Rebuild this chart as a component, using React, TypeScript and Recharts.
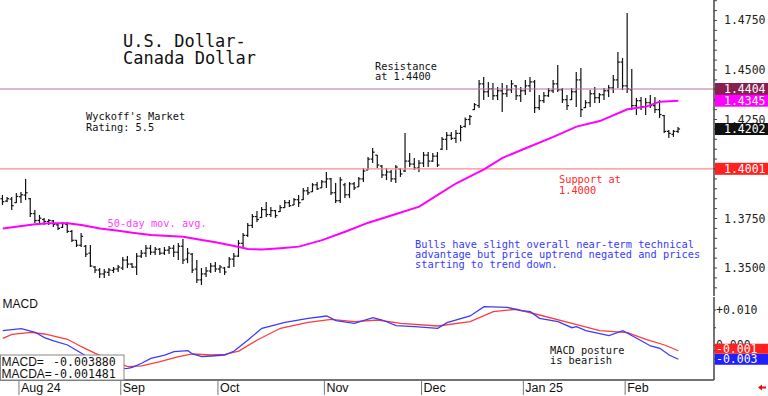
import React from 'react';
import { ComposedChart, Bar, Line, XAxis, YAxis, ReferenceLine } from 'recharts';

// daily bars, late Jul 2024 -> mid Feb 2025 (index = trading day)
const opens = [
  1.3850, 1.3838, 1.3848, 1.3830, 1.3860, 1.3868, 1.3850, 1.3775, 1.3740, 1.3745,
  1.3735, 1.3738, 1.3718, 1.3705, 1.3720, 1.3685, 1.3640, 1.3615, 1.3610, 1.3575,
  1.3505, 1.3490, 1.3470, 1.3478, 1.3488, 1.3495, 1.3500, 1.3540, 1.3520, 1.3505,
  1.3560, 1.3575, 1.3600, 1.3580, 1.3595, 1.3575, 1.3590, 1.3600, 1.3580, 1.3610,
  1.3545, 1.3570, 1.3495, 1.3440, 1.3470, 1.3485, 1.3510, 1.3495, 1.3500, 1.3505,
  1.3545, 1.3560, 1.3625, 1.3665, 1.3715, 1.3760, 1.3755, 1.3795, 1.3770, 1.3790,
  1.3785, 1.3805, 1.3830, 1.3818, 1.3845, 1.3845, 1.3890, 1.3885, 1.3920, 1.3905,
  1.3935, 1.3950, 1.3880, 1.3840, 1.3920, 1.3870, 1.3925, 1.3910, 1.3950, 1.3995,
  1.4050, 1.4070, 1.4015, 1.3970, 1.3985, 1.3950, 1.4000, 1.3990, 1.4040, 1.4025,
  1.4005, 1.4030, 1.4070, 1.4040, 1.4065, 1.4100, 1.4150, 1.4170, 1.4155, 1.4180,
  1.4215, 1.4250, 1.4300, 1.4320, 1.4430, 1.4390, 1.4405, 1.4370, 1.4395, 1.4380,
  1.4400, 1.4420, 1.4370, 1.4395, 1.4420, 1.4440, 1.4310, 1.4345, 1.4370, 1.4395,
  1.4430, 1.4400, 1.4350, 1.4350, 1.4390, 1.4450, 1.4310, 1.4335, 1.4380, 1.4360,
  1.4375, 1.4395, 1.4410, 1.4450, 1.4540, 1.4420, 1.4400, 1.4320, 1.4345, 1.4315,
  1.4335, 1.4320, 1.4300, 1.4270, 1.4190, 1.4175, 1.4190,
];
const highs = [
  1.3869, 1.3859, 1.3859, 1.3879, 1.3884, 1.3950, 1.3854, 1.3793, 1.3768, 1.3753,
  1.3748, 1.3742, 1.3727, 1.3732, 1.3732, 1.3692, 1.3641, 1.3677, 1.3616, 1.3616,
  1.3510, 1.3500, 1.3495, 1.3500, 1.3505, 1.3515, 1.3556, 1.3561, 1.3525, 1.3576,
  1.3591, 1.3616, 1.3616, 1.3606, 1.3601, 1.3606, 1.3611, 1.3616, 1.3626, 1.3647,
  1.3601, 1.3576, 1.3540, 1.3500, 1.3505, 1.3525, 1.3530, 1.3515, 1.3505, 1.3556,
  1.3576, 1.3641, 1.3677, 1.3727, 1.3773, 1.3788, 1.3808, 1.3833, 1.3808, 1.3793,
  1.3818, 1.3843, 1.3843, 1.3854, 1.3869, 1.3904, 1.3909, 1.3929, 1.3934, 1.3944,
  1.3985, 1.3955, 1.3929, 1.3960, 1.3929, 1.3934, 1.3934, 1.3960, 1.4005, 1.4061,
  1.4106, 1.4071, 1.4020, 1.4005, 1.3995, 1.4020, 1.4005, 1.4182, 1.4081, 1.4056,
  1.4045, 1.4086, 1.4086, 1.4081, 1.4086, 1.4162, 1.4187, 1.4187, 1.4197, 1.4222,
  1.4260, 1.4273, 1.4333, 1.4449, 1.4465, 1.4439, 1.4434, 1.4414, 1.4434, 1.4424,
  1.4449, 1.4424, 1.4414, 1.4449, 1.4465, 1.4449, 1.4374, 1.4389, 1.4409, 1.4449,
  1.4525, 1.4409, 1.4374, 1.4409, 1.4490, 1.4510, 1.4348, 1.4399, 1.4414, 1.4384,
  1.4409, 1.4424, 1.4475, 1.4591, 1.4561, 1.4788, 1.4505, 1.4359, 1.4364, 1.4359,
  1.4374, 1.4364, 1.4348, 1.4273, 1.4197, 1.4197, 1.4212,
];
const lows = [
  1.3818, 1.3833, 1.3793, 1.3828, 1.3828, 1.3843, 1.3758, 1.3727, 1.3727, 1.3717,
  1.3717, 1.3707, 1.3692, 1.3702, 1.3677, 1.3631, 1.3606, 1.3606, 1.3556, 1.3505,
  1.3475, 1.3450, 1.3450, 1.3460, 1.3475, 1.3480, 1.3490, 1.3500, 1.3500, 1.3465,
  1.3551, 1.3556, 1.3566, 1.3566, 1.3566, 1.3566, 1.3571, 1.3556, 1.3540, 1.3520,
  1.3525, 1.3475, 1.3424, 1.3414, 1.3455, 1.3475, 1.3480, 1.3475, 1.3465, 1.3500,
  1.3505, 1.3556, 1.3606, 1.3657, 1.3702, 1.3732, 1.3753, 1.3758, 1.3758, 1.3753,
  1.3783, 1.3803, 1.3808, 1.3818, 1.3808, 1.3843, 1.3869, 1.3884, 1.3894, 1.3904,
  1.3904, 1.3869, 1.3828, 1.3828, 1.3854, 1.3854, 1.3894, 1.3909, 1.3934, 1.3995,
  1.4030, 1.4005, 1.3955, 1.3944, 1.3934, 1.3929, 1.3960, 1.3985, 1.4010, 1.3995,
  1.3985, 1.4010, 1.4010, 1.4035, 1.4010, 1.4096, 1.4096, 1.4147, 1.4131, 1.4140,
  1.4210, 1.4222, 1.4298, 1.4308, 1.4348, 1.4364, 1.4348, 1.4348, 1.4288, 1.4364,
  1.4384, 1.4348, 1.4338, 1.4374, 1.4389, 1.4283, 1.4298, 1.4333, 1.4364, 1.4384,
  1.4389, 1.4333, 1.4298, 1.4348, 1.4313, 1.4263, 1.4308, 1.4313, 1.4333, 1.4333,
  1.4348, 1.4364, 1.4384, 1.4409, 1.4399, 1.4384, 1.4298, 1.4273, 1.4298, 1.4273,
  1.4308, 1.4283, 1.4258, 1.4182, 1.4157, 1.4162, 1.4182,
];
const closes = [
  1.3835, 1.3850, 1.3815, 1.3862, 1.3870, 1.3880, 1.3775, 1.3740, 1.3752, 1.3735,
  1.3740, 1.3720, 1.3700, 1.3725, 1.3685, 1.3640, 1.3615, 1.3660, 1.3570, 1.3510,
  1.3490, 1.3470, 1.3480, 1.3490, 1.3495, 1.3505, 1.3540, 1.3520, 1.3505, 1.3560,
  1.3575, 1.3600, 1.3580, 1.3595, 1.3575, 1.3590, 1.3600, 1.3580, 1.3610, 1.3540,
  1.3575, 1.3490, 1.3440, 1.3470, 1.3485, 1.3510, 1.3495, 1.3505, 1.3480, 1.3545,
  1.3560, 1.3625, 1.3665, 1.3715, 1.3760, 1.3745, 1.3795, 1.3770, 1.3790, 1.3765,
  1.3805, 1.3830, 1.3815, 1.3845, 1.3830, 1.3890, 1.3880, 1.3920, 1.3900, 1.3935,
  1.3950, 1.3880, 1.3840, 1.3945, 1.3870, 1.3925, 1.3905, 1.3950, 1.3990, 1.4050,
  1.4085, 1.4020, 1.3970, 1.3985, 1.3950, 1.4010, 1.3975, 1.4040, 1.4025, 1.4005,
  1.4030, 1.4070, 1.4040, 1.4065, 1.4020, 1.4150, 1.4170, 1.4155, 1.4180, 1.4210,
  1.4250, 1.4265, 1.4325, 1.4430, 1.4390, 1.4405, 1.4370, 1.4395, 1.4380, 1.4400,
  1.4430, 1.4370, 1.4395, 1.4420, 1.4440, 1.4310, 1.4345, 1.4370, 1.4395, 1.4430,
  1.4400, 1.4350, 1.4320, 1.4390, 1.4450, 1.4300, 1.4335, 1.4380, 1.4360, 1.4375,
  1.4395, 1.4410, 1.4450, 1.4540, 1.4420, 1.4405, 1.4320, 1.4345, 1.4315, 1.4335,
  1.4320, 1.4300, 1.4275, 1.4190, 1.4180, 1.4190, 1.4202,
];

// 50-day moving average, read at [bar index, value]
const maPoints: [number, number][] = [
  [0, 1.3700], [7, 1.3721], [10, 1.3726], [14, 1.3726], [17, 1.3717], [21, 1.3700],
  [25, 1.3688], [28, 1.3678], [32, 1.3667], [35, 1.3663], [39, 1.3658], [43, 1.3641],
  [46, 1.3630], [50, 1.3611], [53, 1.3596], [56, 1.3594], [60, 1.3600], [64, 1.3608],
  [69, 1.3641], [74, 1.3683], [79, 1.3729], [85, 1.3773], [90, 1.3810], [94, 1.3869],
  [98, 1.3928], [104, 1.3998], [108, 1.4056], [113, 1.4105], [119, 1.4162], [124, 1.4214],
  [129, 1.4242], [135, 1.4302], [139, 1.4315], [142, 1.4340], [146, 1.4345],
];

const macdPoints: [number, number][] = [
  [0, 0.00417], [4, 0.00473], [7, 0.00372], [9, 0.0022], [11, 0.00127], [14, 0.00014],
  [17, -0.0022], [20, -0.00456], [23, -0.006], [25, -0.0065], [27, -0.00642], [28, -0.00614],
  [30, -0.00501], [32, -0.00361], [35, -0.00268], [37, -0.00175], [40, -0.00146], [41, -0.00239],
  [43, -0.00315], [45, -0.00296], [48, -0.00268], [50, -0.00155], [53, 0.00155], [56, 0.00485],
  [61, 0.00654], [66, 0.00766], [70, 0.00831], [72, 0.00699], [76, 0.00625], [80, 0.00783],
  [82, 0.00718], [85, 0.00558], [89, 0.0053], [94, 0.00485], [96, 0.00642], [101, 0.00831],
  [104, 0.01093], [109, 0.01076], [112, 0.0098], [114, 0.00952], [116, 0.00766], [120, 0.0067],
  [123, 0.00501], [124, 0.0053], [126, 0.00417], [131, 0.00276], [134, 0.00417], [137, 0.00203],
  [140, -0.00014], [142, -0.00079], [144, -0.00268], [146, -0.00388],
];
const signalPoints: [number, number][] = [
  [0, 0.00203], [2, 0.00315], [6, 0.00372], [9, 0.00324], [14, 0.00175], [17, -0.00034],
  [20, -0.0022], [24, -0.0045], [27, -0.00597], [30, -0.00577], [34, -0.00456], [38, -0.00315],
  [41, -0.00239], [45, -0.00268], [48, -0.00248], [51, -0.0016], [55, 0.00155], [60, 0.00485],
  [66, 0.00654], [71, 0.00738], [76, 0.0067], [81, 0.00718], [86, 0.00625], [94, 0.00549],
  [101, 0.0067], [106, 0.00952], [111, 0.0102], [116, 0.00859], [123, 0.00625], [129, 0.00417],
  [135, 0.00361], [139, 0.00175], [143, 0.00014], [146, -0.001481],
];

const monthStarts = [4, 26, 47, 70, 91, 113, 135];
const monthLabels = ['Aug 24', 'Sep', 'Oct', 'Nov', 'Dec', 'Jan 25', 'Feb'];

const priceTicks = [
  1.340, 1.345, 1.350, 1.355, 1.360, 1.365, 1.370, 1.375, 1.380, 1.385,
  1.390, 1.395, 1.400, 1.405, 1.410, 1.415, 1.420, 1.425, 1.430, 1.435,
  1.440, 1.445, 1.450, 1.455, 1.460, 1.465, 1.470, 1.475, 1.480, 1.485,
];
const priceLabels = [1.35, 1.375, 1.425, 1.45, 1.475];
const macdTicks = [-0.005, 0, 0.005, 0.01];
const macdEdgeTicks = [
  -0.009, -0.008, -0.007, -0.006, -0.005, -0.004, -0.003, -0.002, -0.001, 0,
  0.001, 0.002, 0.003, 0.004, 0.005, 0.006, 0.007, 0.008, 0.009, 0.01, 0.011, 0.012, 0.013,
];

const resistance = 1.4404;
const support = 1.4001;

const X_DOMAIN: [number, number] = [-0.6, 153.7];
const PRICE_DOMAIN: [number, number] = [1.33587, 1.48535];
const MACD_DOMAIN: [number, number] = [-0.00972, 0.01366];
const MONO = "'DejaVu Sans Mono', monospace";
const NARROW = "'Liberation Sans Narrow', 'Liberation Sans', Arial, sans-serif";

const rows = highs.map((h, i) => ({ i, o: opens[i], h, l: lows[i], c: closes[i] }));
const maData = maPoints.map(([i, v]) => ({ i, v }));
const macdData = macdPoints.map(([i, v]) => ({ i, v }));
const sigData = signalPoints.map(([i, v]) => ({ i, v }));

const lastClose = closes[closes.length - 1];
const lastMa = maPoints[maPoints.length - 1][1];
const lastMacd = macdPoints[macdPoints.length - 1][1];
const lastSig = signalPoints[signalPoints.length - 1][1];
const monthTicks = monthStarts.map((m) => m - 0.5);

const near = (list: number[], v: number) => list.some((t) => Math.abs(t - v) < 1e-7);
const trunc3 = (v: number) => (Math.trunc(v * 1000) / 1000).toFixed(3);

// value tags sit on the right axis, drawn after the plain tick labels
const priceTags = [
  { value: resistance, fill: '#86204e', text: resistance.toFixed(4), h: 12, dy: 0 },
  { value: support, fill: '#ff2020', text: support.toFixed(4), h: 12, dy: 0 },
  { value: lastMa, fill: '#ff00ff', text: lastMa.toFixed(4), h: 12, dy: 0 },
  { value: lastClose, fill: '#111', text: lastClose.toFixed(4), h: 12, dy: 0 },
];
const macdTags = [
  { value: lastMacd, fill: '#2020ff', text: trunc3(lastMacd), h: 11, dy: 0 },
  { value: lastSig, fill: '#ff2020', text: trunc3(lastSig), h: 10, dy: -2 },
];

function OhlcBar(props: any) {
  const { x, y, width, height, payload } = props;
  if (!payload || payload.h == null) return null;
  const cx = x + width / 2;
  const top = Math.min(y, y + height);
  const bot = Math.max(y, y + height);
  const span = payload.h - payload.l || 1e-9;
  const yo = top + ((payload.h - payload.o) / span) * (bot - top);
  const yc = top + ((payload.h - payload.c) / span) * (bot - top);
  return (
    <g stroke="#111" strokeWidth={1.2}>
      <line x1={cx} x2={cx} y1={top} y2={bot} />
      <line x1={cx - 2} x2={cx} y1={yo} y2={yo} />
      <line x1={cx} x2={cx + 2} y1={yc} y2={yc} />
    </g>
  );
}

function AxisTick(props: any) {
  const { x, y, payload, tags, fmt, gap, textDx } = props;
  const v = payload.value;
  const tag = tags.find((t: any) => Math.abs(t.value - v) < 1e-9);
  if (tag) {
    const left = x - gap;
    return (
      <g>
        <rect x={left + 1} y={y + tag.dy - tag.h / 2} width={53} height={tag.h} fill={tag.fill} />
        <text x={left + textDx} y={y + tag.dy + 4} fill="#fff" fontSize={11.5} fontFamily={MONO}>{tag.text}</text>
      </g>
    );
  }
  const label = fmt(v);
  if (!label) return null;
  return <text x={x} y={y + 4} fill="#222" fontSize={11.5} fontFamily={MONO}>{label}</text>;
}

function DateTick(props: any) {
  const { x, y, payload } = props;
  const k = monthTicks.findIndex((t) => Math.abs(t - payload.value) < 1e-6);
  return (
    <g>
      <line x1={x} x2={x} y1={y} y2={y + 15} stroke="#777" />
      <text x={x + 2} y={y + 12} fontSize={12.5} fill="#111" fontFamily={NARROW}>{monthLabels[k]}</text>
    </g>
  );
}

const priceFmt = (v: number) => (near(priceLabels, v) ? v.toFixed(4) : '');
const macdFmt = (v: number) => (Math.abs(v - 0.01) < 1e-9 ? '+0.010' : Math.abs(v) < 1e-9 ? '0.000' : '');

export default function App() {
  return (
    <div style={{ position: 'absolute', left: 0, top: 0, width: 768, height: 396, background: '#fff' }}>
      <div style={{ position: 'absolute', left: 0, top: 0 }}>
        <ComposedChart width={768} height={296} data={rows} margin={{ top: 0, right: 0, bottom: 0, left: 0 }}>
          <XAxis dataKey="i" type="number" domain={X_DOMAIN} allowDataOverflow height={0}
            tick={false} tickLine={false} axisLine={{ stroke: '#555', strokeWidth: 2 }} />
          <YAxis yAxisId="edge" orientation="left" width={0} mirror domain={PRICE_DOMAIN} allowDataOverflow
            ticks={priceTicks} interval={0} tick={false} tickSize={3} axisLine={false} tickLine={{ stroke: '#777' }} />
          <YAxis yAxisId="p" orientation="right" width={54} domain={PRICE_DOMAIN} allowDataOverflow
            ticks={[...priceTicks, ...priceTags.map((t) => t.value)]} interval={0} tickSize={3} tickMargin={7}
            axisLine={{ stroke: '#444', strokeWidth: 1.5 }} tickLine={{ stroke: '#444' }}
            tick={<AxisTick tags={priceTags} fmt={priceFmt} gap={10} textDx={10} />} />
          <ReferenceLine yAxisId="p" y={resistance} stroke="#b8709a" strokeWidth={1} />
          <ReferenceLine yAxisId="p" y={support} stroke="#ff8a8a" strokeWidth={1.2} />
          <Bar yAxisId="p" dataKey={(r: any) => [r.l, r.h]} barSize={4}
            shape={(p: any) => <OhlcBar {...p} />} isAnimationActive={false} />
          <Line yAxisId="p" data={maData} dataKey="v" type="linear" stroke="#ff00ff" strokeWidth={2}
            dot={false} activeDot={false} isAnimationActive={false} />
        </ComposedChart>
      </div>
      <div style={{ position: 'absolute', left: 0, top: 297 }}>
        <ComposedChart width={768} height={99} margin={{ top: 0, right: 0, bottom: 0, left: 0 }}>
          <XAxis dataKey="i" type="number" domain={X_DOMAIN} allowDataOverflow height={16}
            ticks={monthTicks} interval={0} tickSize={0} tickMargin={0} tickLine={false}
            tick={<DateTick />} axisLine={{ stroke: '#444', strokeWidth: 1.5 }} />
          <YAxis yAxisId="edge" orientation="left" width={0} mirror domain={MACD_DOMAIN} allowDataOverflow
            ticks={macdEdgeTicks} interval={0} tick={false} tickSize={2} axisLine={false} tickLine={{ stroke: '#888' }} />
          <YAxis yAxisId="m" orientation="right" width={54} domain={MACD_DOMAIN} allowDataOverflow
            ticks={[...macdTicks, ...macdTags.map((t) => t.value)]} interval={0} tickSize={2} tickMargin={0}
            axisLine={{ stroke: '#444', strokeWidth: 1.5 }} tickLine={{ stroke: '#444' }}
            tick={<AxisTick tags={macdTags} fmt={macdFmt} gap={2} textDx={2} />} />
          <Line yAxisId="m" data={sigData} dataKey="v" type="linear" stroke="#ff3b3b" strokeWidth={1.3}
            dot={false} activeDot={false} isAnimationActive={false} />
          <Line yAxisId="m" data={macdData} dataKey="v" type="linear" stroke="#3b3bff" strokeWidth={1.3}
            dot={false} activeDot={false} isAnimationActive={false} />
        </ComposedChart>
      </div>
      <svg width={768} height={396} style={{ position: 'absolute', left: 0, top: 0, pointerEvents: 'none' }}>
        <g fontFamily={MONO} fill="#111">
          <text x={123} y={47} fontSize={17}>U.S. Dollar-</text>
          <text x={123} y={64} fontSize={17}>Canada Dollar</text>
          <text x={86} y={120} fontSize={10.3}>Wyckoff's Market</text>
          <text x={86} y={131} fontSize={10.3}>Rating: 5.5</text>
          <text x={375} y={70} fontSize={10.3}>Resistance</text>
          <text x={375} y={80} fontSize={10.3}>at 1.4400</text>
          <text x={559} y={183} fontSize={10.3} fill="#ff2a2a">Support at</text>
          <text x={559} y={193.5} fontSize={10.3} fill="#ff2a2a">1.4000</text>
          <text x={107.5} y={227} fontSize={10.3} fill="#ff40ff">50-day mov. avg.</text>
          <text x={415} y={247.5} fontSize={10.3} fill="#3a3aff">Bulls have slight overall near-term technical</text>
          <text x={415} y={257.5} fontSize={10.3} fill="#3a3aff">advantage but price uptrend negated and prices</text>
          <text x={415} y={268} fontSize={10.3} fill="#3a3aff">starting to trend down.</text>
          <text x={550} y={354} fontSize={10.3}>MACD posture</text>
          <text x={550} y={364} fontSize={10.3}>is bearish</text>
        </g>
        <text x={2.5} y={307.5} fontSize={12} fontFamily={NARROW} fill="#111">MACD</text>
        <rect x={0.5} y={355} width={123.5} height={25} fill="#fff" stroke="#888" />
        <text x={1.5} y={365.5} fontSize={12} fontFamily={NARROW} fill="#111">MACD=</text>
        <text x={53} y={365.5} fontSize={11.6} fontFamily={MONO} fill="#111">{lastMacd.toFixed(6)}</text>
        <text x={1.5} y={377.5} fontSize={12} fontFamily={NARROW} fill="#111">MACDA=</text>
        <text x={53} y={377.5} fontSize={11.6} fontFamily={MONO} fill="#111">{lastSig.toFixed(6)}</text>
        <polygon points="758,387.5 762,384.5 762,386.5 766,386.5 766,388.5 762,388.5 762,390.5" fill="#e01010" />
      </svg>
    </div>
  );
}
